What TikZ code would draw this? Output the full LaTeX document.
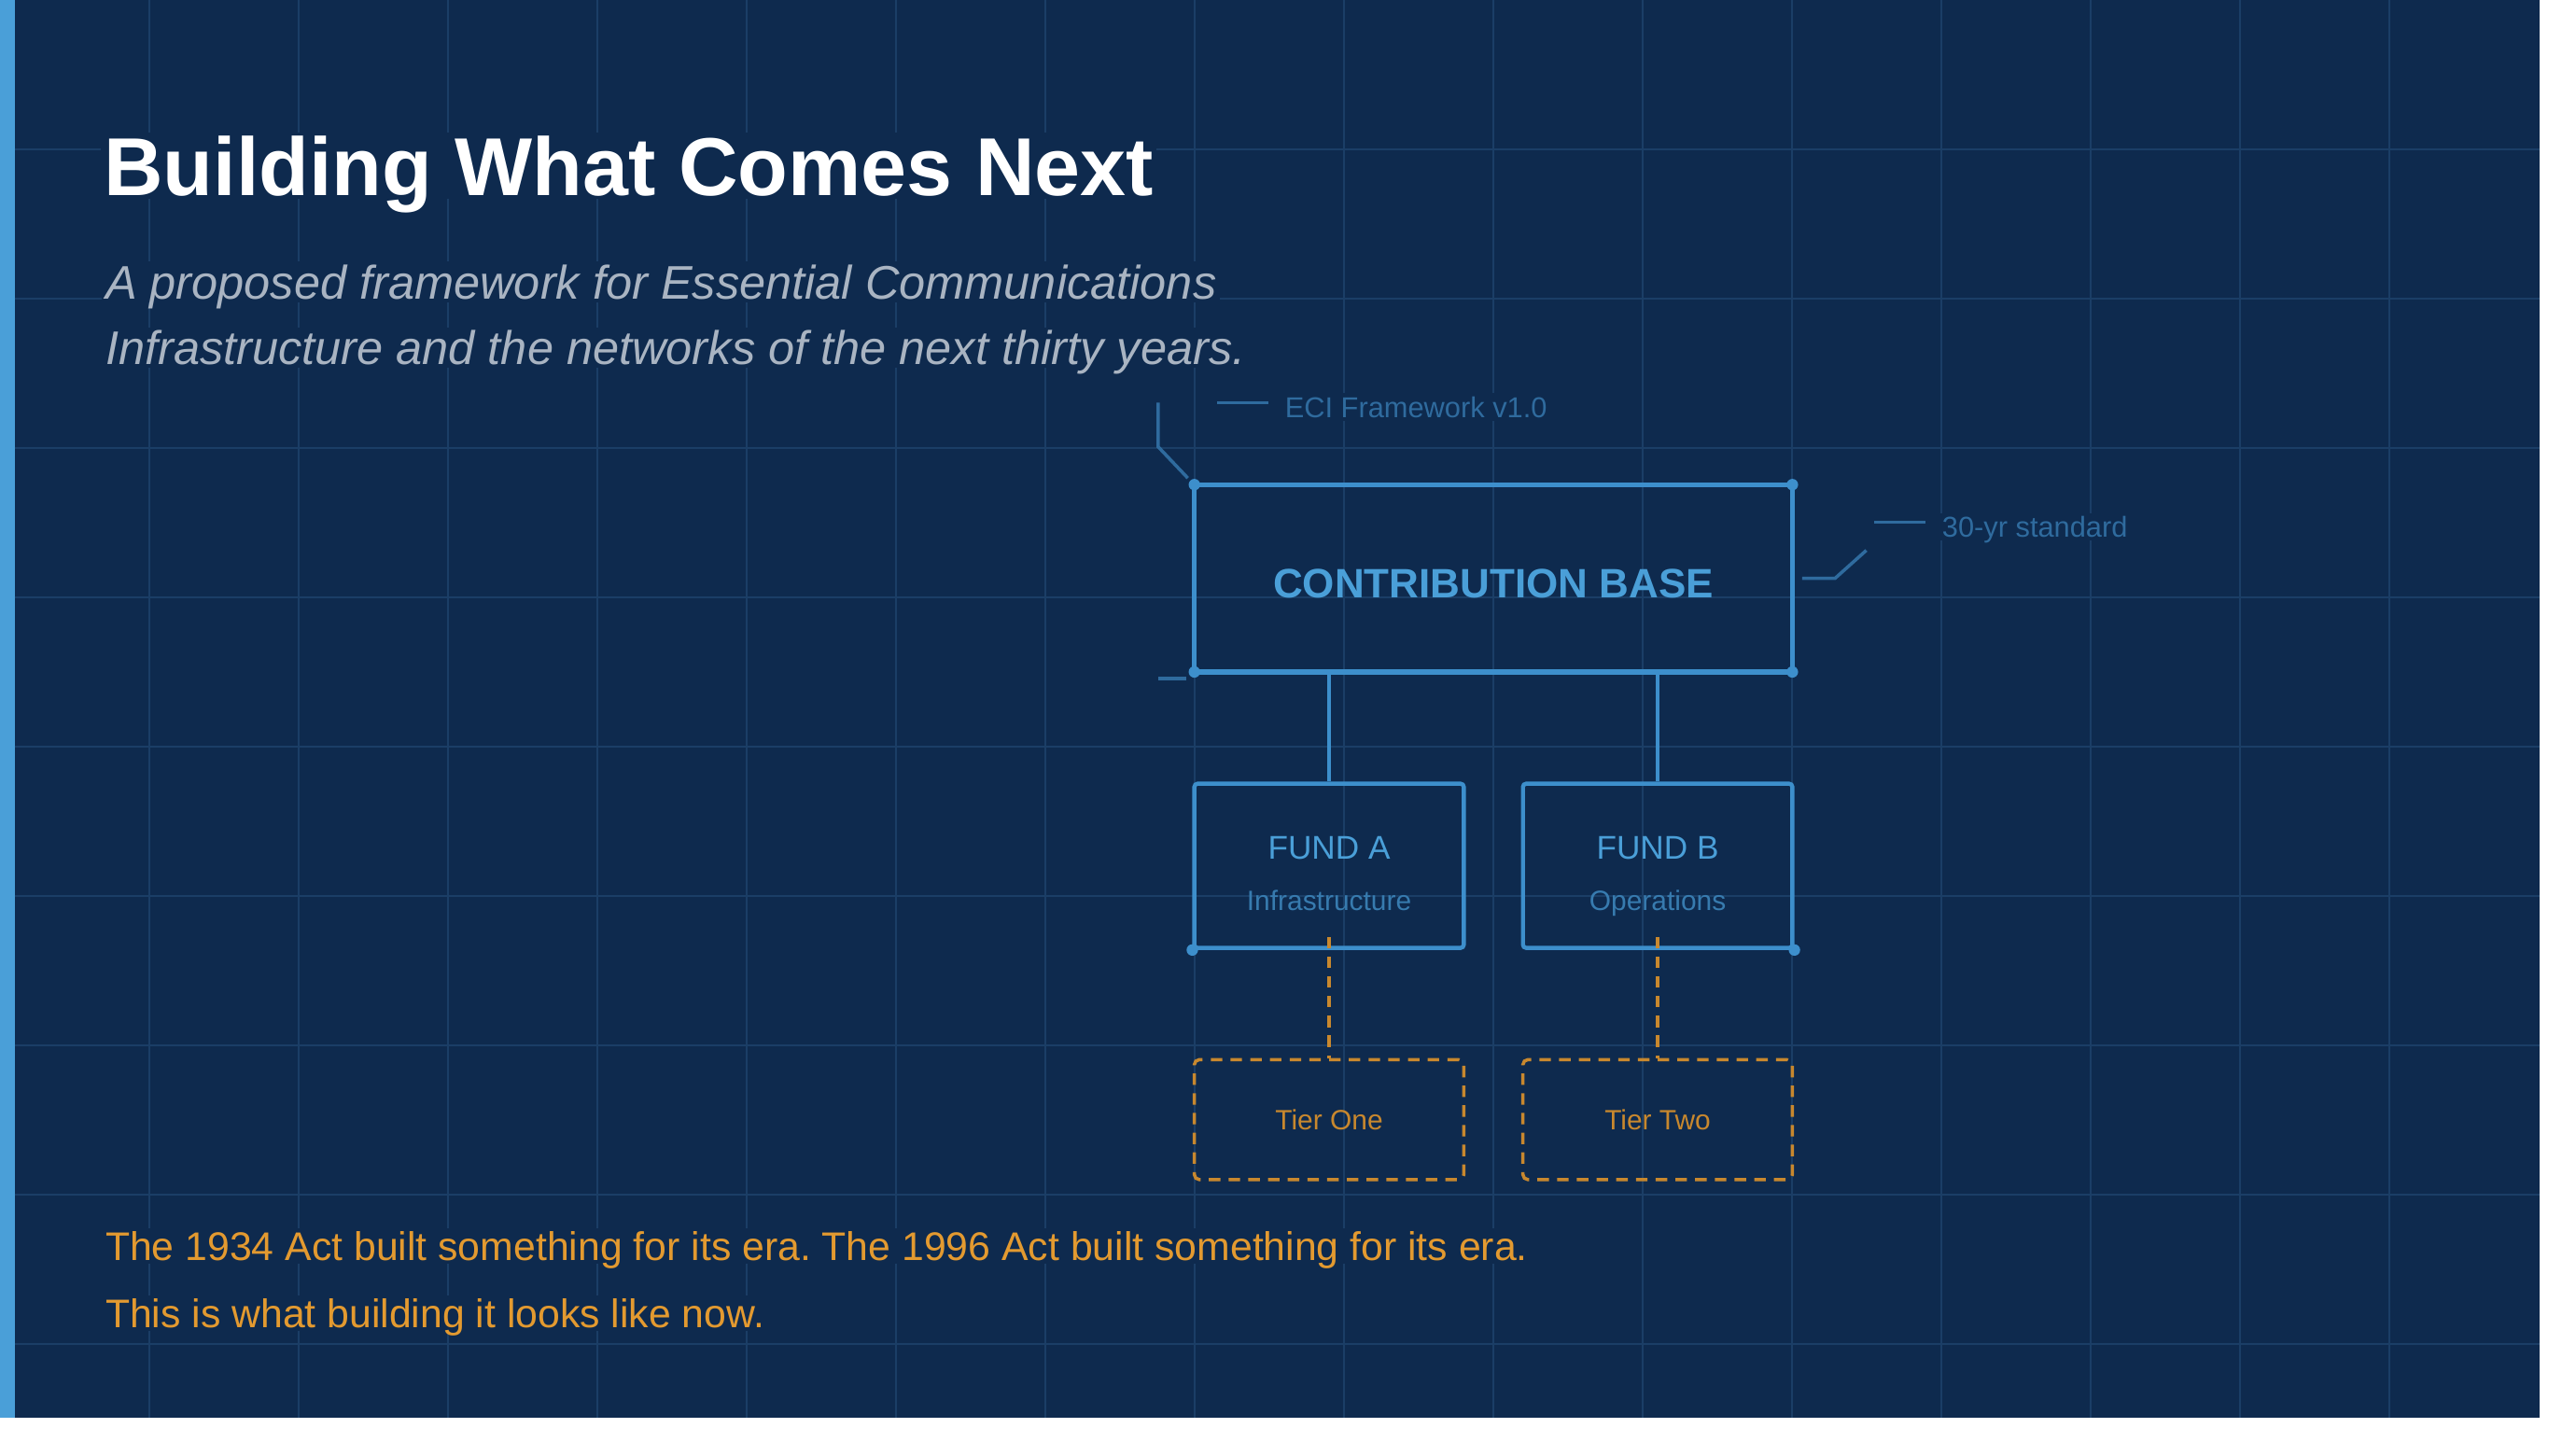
\documentclass[tikz,border=0pt]{standalone}
\usepackage{fontspec}
\setmainfont{Liberation Sans}
\frenchspacing
\definecolor{bg}{HTML}{0E2A4E}
\definecolor{gridc}{HTML}{1B3E66}
\definecolor{bar}{HTML}{4A9FD8}
\definecolor{blu}{HTML}{3D8FCC}
\definecolor{dimblu}{HTML}{2F6B9E}
\definecolor{sub}{HTML}{A9B4C2}
\definecolor{org}{HTML}{C8882E}
\definecolor{org2}{HTML}{E39A30}
\begin{document}
\begin{tikzpicture}[x=1pt,y=-1pt,
  txt/.style={inner sep=2pt,fill=bg,text depth=0pt},
  box/.style={draw=blu,line width=2.5pt,rounded corners=2pt},
  tier/.style={draw=org,line width=2pt,dash pattern=on 7pt off 5pt,rounded corners=3pt},
  dot/.style={circle,fill=blu,inner sep=0pt,minimum size=7pt},
  lbl/.style={draw=dimblu,line width=1.5pt}]
\useasboundingbox (0,0) rectangle (1568,886);
\fill[white] (0,0) rectangle (1568,886);
\fill[bg] (0,0) rectangle (1546,863);
\fill[bar] (0,0) rectangle (9,863);
\foreach \i in {1,...,16} \draw[gridc,line width=0.8pt] ({\i*90.9},0) -- ({\i*90.9},863);
\foreach \j in {1,...,9} \draw[gridc,line width=0.8pt] (9,{\j*90.9}) -- (1546,{\j*90.9});
% title
\node[txt,anchor=base west,text=white,font=\bfseries\fontsize{50}{60}\selectfont] (title) at (61,119) {Building What Comes Next};
\node[txt,anchor=base west,text=sub,font=\itshape\fontsize{28.7}{40}\selectfont] (sub1) at (62,182) {A proposed framework for Essential Communications};
\node[txt,anchor=base west,text=sub,font=\itshape\fontsize{28.7}{40}\selectfont] (sub2) at (62,222) {Infrastructure and the networks of the next thirty years.};
% labels
\node[txt,anchor=base west,text=dimblu,font=\fontsize{17.5}{20}\selectfont] (eci) at (780,254) {ECI Framework v1.0};
\coordinate (e1) at (741,245); \coordinate (e2) at (772,245);
\draw[lbl] (e1) -- (e2);
\node[txt,anchor=base west,text=dimblu,font=\fontsize{17.5}{20}\selectfont] (std) at (1180,327) {30-yr standard};
\coordinate (s1) at (1141,318); \coordinate (s2) at (1172,318);
\draw[lbl] (s1) -- (s2);
\coordinate (b1) at (705,245); \coordinate (b2) at (705,272); \coordinate (b3) at (723,291);
\draw[lbl,line width=2pt] (b1) -- (b2) -- (b3);
\coordinate (t1) at (705,413); \coordinate (t2) at (722,413);
\draw[lbl,line width=2pt] (t1) -- (t2);
\coordinate (r1) at (1097,352); \coordinate (r2) at (1117,352); \coordinate (r3) at (1136,335);
\draw[lbl,line width=2pt] (r1) -- (r2) -- (r3);
% main box
\draw[box,rounded corners=0pt,line width=3pt] (727,295) rectangle (1091,409);
\node[txt,fill=none,text=bar,font=\bfseries\fontsize{25}{30}\selectfont] (cb) at (909,355) {CONTRIBUTION BASE};
\node[dot] (d1) at (727,295) {}; \node[dot] (d2) at (1091,295) {};
\node[dot] (d3) at (727,409) {}; \node[dot] (d4) at (1091,409) {};
% funds
\node[box,minimum width=164pt,minimum height=100pt] (fa) at (809,527) {};
\node[box,minimum width=164pt,minimum height=100pt] (fb) at (1009,527) {};
\node[txt,fill=none,text=bar,font=\fontsize{20}{24}\selectfont] at (809,516) {FUND A};
\node[txt,fill=none,text=dimblu!70!bar,font=\fontsize{17}{20}\selectfont] at (809,548) {Infrastructure};
\node[txt,fill=none,text=bar,font=\fontsize{20}{24}\selectfont] at (1009,516) {FUND B};
\node[txt,fill=none,text=dimblu!70!bar,font=\fontsize{17}{20}\selectfont] at (1009,548) {Operations};
\node[dot] at (fa.south west) {}; \node[dot] at (fb.south east) {};
\coordinate (ca) at (809,409); \coordinate (cbb) at (1009,409);
\draw[blu,line width=2.5pt] (ca) -- (fa.north);
\draw[blu,line width=2.5pt] (cbb) -- (fb.north);
% tiers
\node[tier,minimum width=164pt,minimum height=73pt,text=org,font=\fontsize{17}{20}\selectfont] (ta) at (809,681.5) {Tier One};
\node[tier,minimum width=164pt,minimum height=73pt,text=org,font=\fontsize{17}{20}\selectfont] (tb) at (1009,681.5) {Tier Two};
\draw[org,line width=2pt,dash pattern=on 7pt off 5pt] ([yshift=8pt]fa.south) -- (ta.north);
\draw[org,line width=2pt,dash pattern=on 7pt off 5pt] ([yshift=8pt]fb.south) -- (tb.north);
% bottom
\node[txt,anchor=base west,text=org2,font=\fontsize{24.3}{28}\selectfont] (q1) at (62,767) {The 1934 Act built something for its era. The 1996 Act built something for its era.};
\node[txt,anchor=base west,text=org2,font=\fontsize{24.3}{28}\selectfont] (q2) at (62,808) {This is what building it looks like now.};
\end{tikzpicture}
\end{document}
